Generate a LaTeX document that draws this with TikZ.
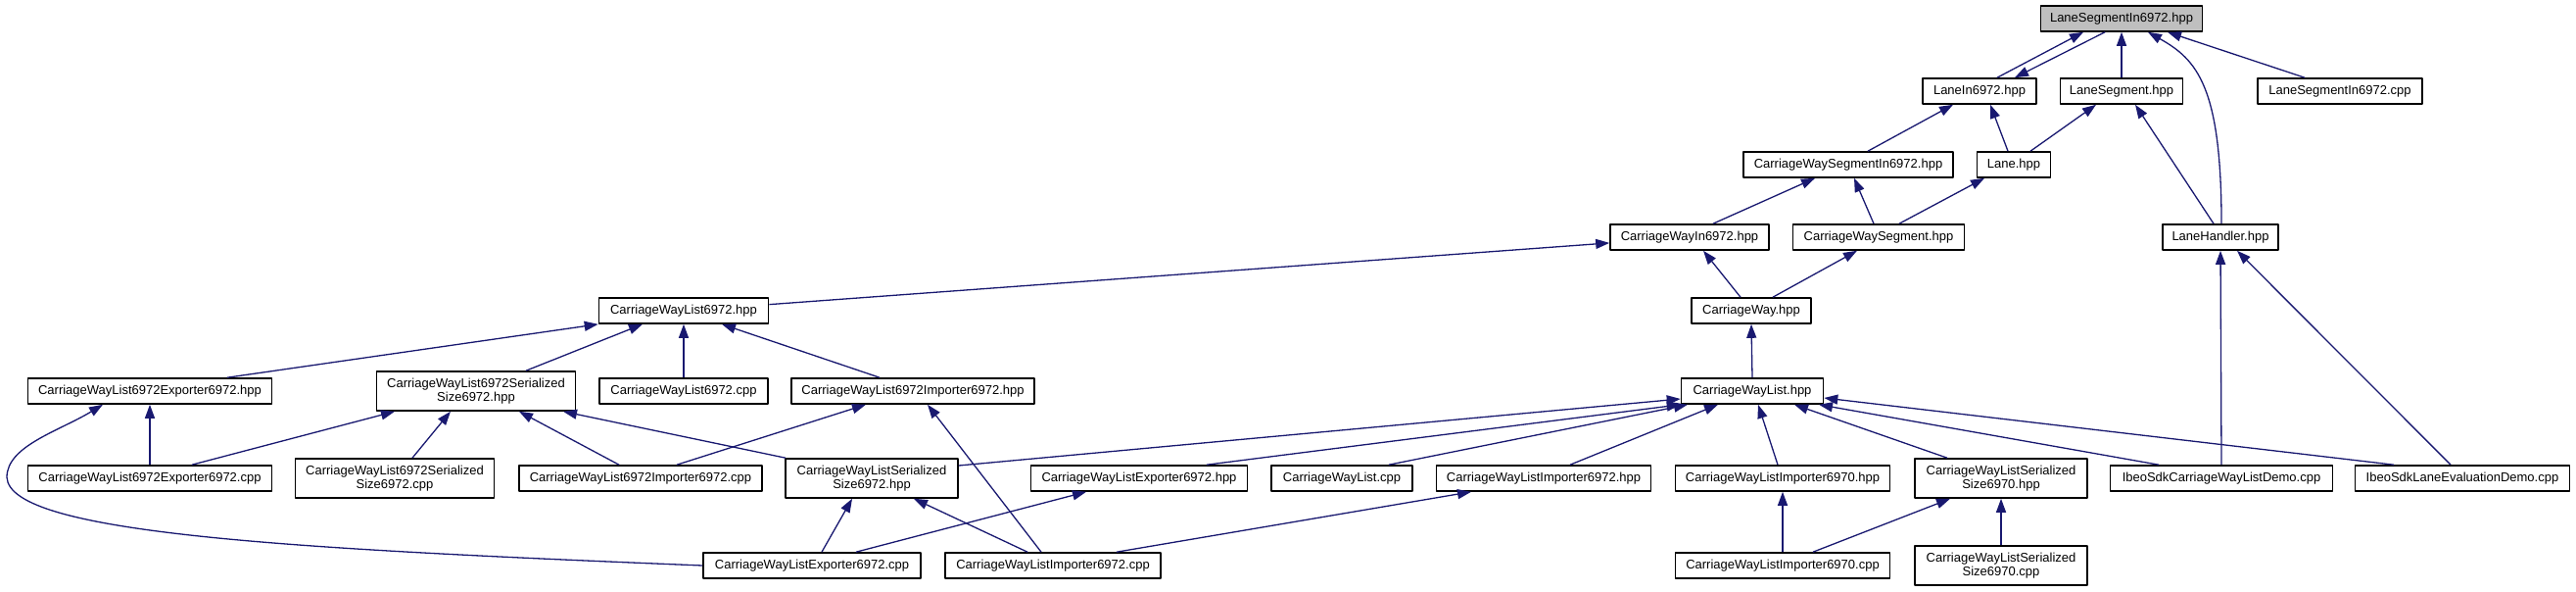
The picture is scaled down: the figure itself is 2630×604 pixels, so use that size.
\documentclass[tikz,border=0pt]{standalone}
\usepackage{fontspec}
\setmainfont{Liberation Sans}
\usetikzlibrary{arrows.meta}
\definecolor{edgeblue}{HTML}{191970}
\definecolor{rootgray}{HTML}{BFBFBF}

\begin{document}
\begin{tikzpicture}[x=1pt,y=-1pt,>={Triangle[length=14pt,width=10pt]},line join=round,
  file/.style={draw=black,line width=1.6pt,fill=white,inner sep=0pt,minimum height=26pt,font=\fontsize{13}{14}\selectfont},
  twoline/.style={file,minimum height=40pt,align=center},
  dep/.style={->,draw=edgeblue,line width=1.3pt}]
\useasboundingbox (0,0) rectangle (2630,604);
% rank 0
\node[file,fill=rootgray,minimum width=165] (lsih) at (2166,19) {LaneSegmentIn6972.hpp};
% rank 1
\node[file,minimum width=116] (lanein) at (2021,93) {LaneIn6972.hpp};
\node[file,minimum width=125] (laneseg) at (2166,93) {LaneSegment.hpp};
\node[file,minimum width=168] (lsicpp) at (2389,93) {LaneSegmentIn6972.cpp};
% rank 2
\node[file,minimum width=214] (cwsegin) at (1887,168) {CarriageWaySegmentIn6972.hpp};
\node[file,minimum width=75] (lane) at (2056,168) {Lane.hpp};
% rank 3
\node[file,minimum width=162] (cwin) at (1725,242) {CarriageWayIn6972.hpp};
\node[file,minimum width=175] (cwseg) at (1918,242) {CarriageWaySegment.hpp};
\node[file,minimum width=118] (lanehdl) at (2267,242) {LaneHandler.hpp};
% rank 4
\node[file,minimum width=173] (cwl6972) at (698,317) {CarriageWayList6972.hpp};
\node[file,minimum width=122] (cw) at (1788,317) {CarriageWay.hpp};
% rank 5
\node[file,minimum width=249] (cwl6972exph) at (153,399) {CarriageWayList6972Exporter6972.hpp};
\node[twoline,minimum width=203] (cwl6972ssh) at (486,399) {CarriageWayList6972Serialized\\Size6972.hpp};
\node[file,minimum width=172] (cwl6972cpp) at (698,399) {CarriageWayList6972.cpp};
\node[file,minimum width=248] (cwl6972imph) at (932,399) {CarriageWayList6972Importer6972.hpp};
\node[file,minimum width=145] (cwlh) at (1789,399) {CarriageWayList.hpp};
% rank 6
\node[file,minimum width=249] (cwl6972expcpp) at (153,488) {CarriageWayList6972Exporter6972.cpp};
\node[twoline,minimum width=203] (cwl6972sscpp) at (403,488) {CarriageWayList6972Serialized\\Size6972.cpp};
\node[file,minimum width=248] (cwl6972impcpp) at (654,488) {CarriageWayList6972Importer6972.cpp};
\node[twoline,minimum width=176] (cwlssh) at (890,488) {CarriageWayListSerialized\\Size6972.hpp};
\node[file,minimum width=221] (cwlexph) at (1163,488) {CarriageWayListExporter6972.hpp};
\node[file,minimum width=144] (cwlcpp) at (1370,488) {CarriageWayList.cpp};
\node[file,minimum width=219] (cwlimph) at (1576,488) {CarriageWayListImporter6972.hpp};
\node[file,minimum width=219] (cwlimp70h) at (1820,488) {CarriageWayListImporter6970.hpp};
\node[twoline,minimum width=176] (cwlss70h) at (2043,488) {CarriageWayListSerialized\\Size6970.hpp};
\node[file,minimum width=227] (democwl) at (2268,488) {IbeoSdkCarriageWayListDemo.cpp};
\node[file,minimum width=219] (demolane) at (2514,488) {IbeoSdkLaneEvaluationDemo.cpp};
% rank 7
\node[file,minimum width=222] (cwlexpcpp) at (829,577) {CarriageWayListExporter6972.cpp};
\node[file,minimum width=220] (cwlimpcpp) at (1075,577) {CarriageWayListImporter6972.cpp};
\node[file,minimum width=219] (cwlimp70cpp) at (1820,577) {CarriageWayListImporter6970.cpp};
\node[twoline,minimum width=176] (cwlss70cpp) at (2043,577) {CarriageWayListSerialized\\Size6970.cpp};
% edges into rank 0
\draw[dep] ([xshift=18]lanein.north) -- ([xshift=-39]lsih.south);
\draw[dep] ([xshift=-17]lsih.south) -- ([xshift=36]lanein.north);
\draw[dep] (laneseg.north) -- (lsih.south);
\draw[dep] ([xshift=1]lanehdl.north) .. controls +(0,-140) and +(50,28) .. ([xshift=27]lsih.south);
\draw[dep] ([xshift=-36]lsicpp.north) -- ([xshift=47]lsih.south);
% edges into rank 1
\draw[dep] ([xshift=20]cwsegin.north) -- ([xshift=-27]lanein.south);
\draw[dep] ([xshift=-6]lane.north) -- ([xshift=11]lanein.south);
\draw[dep] ([xshift=17]lane.north) -- ([xshift=-26]laneseg.south);
\draw[dep] ([xshift=-7]lanehdl.north) -- ([xshift=14]laneseg.south);
% edges into rank 2
\draw[dep] ([xshift=24]cwin.north) -- ([xshift=-34]cwsegin.south);
\draw[dep] ([xshift=-5]cwseg.north) -- ([xshift=6]cwsegin.south);
\draw[dep] ([xshift=21]cwseg.north) -- ([xshift=-30]lane.south);
% edges into rank 3
\draw[dep] (cwl6972) -- (cwin);
\draw[dep] ([xshift=-11]cw.north) -- ([xshift=14]cwin.south);
\draw[dep] ([xshift=22]cw.north) -- ([xshift=-22]cwseg.south);
\draw[dep] (democwl.north) -- (lanehdl.south);
\draw[dep] ([xshift=-12]demolane.north) -- ([xshift=17]lanehdl.south);
% edges into rank 4
\draw[dep] (cwlh.north) -- (cw.south);
\draw[dep] ([xshift=79]cwl6972exph.north) -- (cwl6972.south west);
\draw[dep] ([xshift=51]cwl6972ssh.north) -- ([xshift=-42]cwl6972.south);
\draw[dep] (cwl6972cpp.north) -- (cwl6972.south);
\draw[dep] ([xshift=-34]cwl6972imph.north) -- ([xshift=39]cwl6972.south);
% edges into rank 5
\draw[dep] ([yshift=13]cwlssh.east) -- ([yshift=-8]cwlh.west);
\draw[dep] ([xshift=69]cwlexph.north) -- (cwlh.south west);
\draw[dep] ([xshift=48]cwlcpp.north) -- ([xshift=-66]cwlh.south);
\draw[dep] ([xshift=27]cwlimph.north) -- ([xshift=-35]cwlh.south);
\draw[dep] ([xshift=-5]cwlimp70h.north) -- ([xshift=6]cwlh.south);
\draw[dep] ([xshift=-55]cwlss70h.north) -- ([xshift=43]cwlh.south);
\draw[dep] ([xshift=-64]democwl.north) -- ([xshift=68]cwlh.south);
\draw[dep] ([xshift=-70]demolane.north) -- ([yshift=-7]cwlh.east);
\draw[dep] (cwl6972expcpp.north) -- (cwl6972exph.south);
\draw[dep] (cwlexpcpp.west) .. controls (300,560) and (10,545) .. (7,487) .. controls (7,455) and (60,440) .. ([xshift=-48]cwl6972exph.south);
\draw[dep] ([xshift=43]cwl6972expcpp.north) -- ([xshift=-83]cwl6972ssh.south);
\draw[dep] ([xshift=18]cwl6972sscpp.north) -- ([xshift=-26]cwl6972ssh.south);
\draw[dep] ([xshift=-22]cwl6972impcpp.north) -- ([xshift=44]cwl6972ssh.south);
\draw[dep] ([xshift=-88]cwlssh.north) -- ([xshift=89]cwl6972ssh.south);
\draw[dep] ([xshift=37]cwl6972impcpp.north) -- ([xshift=-48]cwl6972imph.south);
\draw[dep] ([xshift=-12]cwlimpcpp.north) -- ([xshift=15]cwl6972imph.south);
% edges into rank 6
\draw[dep] ([xshift=10]cwlexpcpp.north) -- ([xshift=-20]cwlssh.south);
\draw[dep] ([xshift=-26]cwlimpcpp.north) -- ([xshift=43]cwlssh.south);
\draw[dep] ([xshift=45]cwlexpcpp.north) -- ([xshift=-54]cwlexph.south);
\draw[dep] ([xshift=65]cwlimpcpp.north) -- ([xshift=-74]cwlimph.south);
\draw[dep] (cwlimp70cpp.north) -- (cwlimp70h.south);
\draw[dep] ([xshift=31]cwlimp70cpp.north) -- ([xshift=-52]cwlss70h.south);
\draw[dep] (cwlss70cpp.north) -- (cwlss70h.south);
\end{tikzpicture}
\end{document}
